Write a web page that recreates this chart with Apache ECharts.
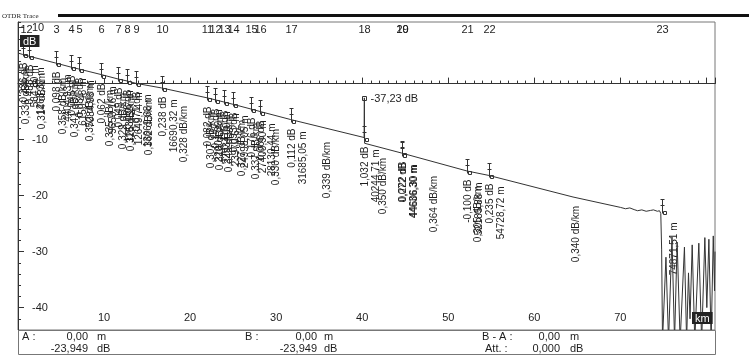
<!DOCTYPE html>
<html style="height: 100%">
<head>
<meta charset="utf-8">
<script type="text/javascript" src="https://cdn.jsdelivr.net/npm/echarts@6/dist/echarts.min.js"></script>
</head>
<body style="height: 100%; margin: 0; background: #fff">
<div id="container" style="width: 749px; height: 361px"></div>
<script type="text/javascript">
// trace (km, dB)
var TRACE_KM = [0, 0.56, 0.6, 1.26, 1.3, 4.4, 4.45, 6.15, 6.2, 7.08, 7.13, 9.65, 9.7, 11.63, 11.68,
    12.67, 12.72, 13.7, 13.75, 16.69, 16.74, 22.0, 22.05, 22.93, 22.98, 23.97, 24.02, 25.0, 25.05,
    27.1, 27.15, 28.17, 28.22, 31.69, 31.74, 40.22, 40.25, 40.28, 44.58, 44.63, 44.68, 52.17, 52.22,
    54.73, 54.78, 64.5, 70.0, 70.6, 71.1, 71.6, 72.0, 72.5, 73.0, 73.5, 73.85, 74.3, 74.55, 74.7,
    74.8, 74.9, 75.3, 75.6, 76.0, 76.3, 76.6, 76.95, 77.45, 77.7, 77.92, 78.1, 78.35, 78.65, 79.12,
    79.45, 79.82, 80.05, 80.29, 80.55, 80.8, 80.95, 81.0];
var TRACE_DB = [5.45, 5.2, 5.1, 4.9, 4.8, 3.66, 3.56, 2.95, 2.9, 2.6, 2.54, 1.62, 1.56, 0.82, 0.77,
    0.47, 0.4, 0.05, -0.02, -0.78, -1.02, -2.55, -2.63, -2.9, -3.05, -3.3, -3.42, -3.7, -3.79,
    -4.55, -4.72, -5.0, -5.07, -6.42, -6.53, -9.63, -2.55, -10.66, -12.4, -12.62, -12.69, -15.6, -15.5,
    -16.4, -16.63, -20.25, -22.1, -22.35, -22.2, -22.5, -22.7, -22.55, -22.8, -22.65, -22.55, -22.8, -22.7, -23.2,
    -29.7, -46, -31, -46, -27.4, -46, -28.3, -46, -29.2, -46, -33.8, -42, -28.8, -46, -28.5,
    -46, -27.5, -40, -27.8, -46, -27.2, -37, -30];

var EVENT_NO = ['1', '2', '3', '4', '5', '6', '7', '8', '9', '10', '11', '12', '13', '14', '15', '16',
    '17', '18', '19', '20', '21', '22', '23'];
var EVENT_KM = [0.56, 1.26, 4.4, 6.15, 7.08, 9.65, 11.63, 12.67, 13.7, 16.69, 22.0, 22.93, 23.97, 25.0,
    27.1, 28.17, 31.69, 40.24, 44.58, 44.63, 52.17, 54.73, 74.87];
var EVENT_DB = [5.2, 4.9, 3.66, 2.95, 2.6, 1.62, 0.82, 0.47, 0.05, -0.78, -2.55, -2.9, -3.3, -3.7,
    -4.55, -5.0, -6.42, -9.63, -12.4, -12.62, -15.6, -16.4, -22.7];
var EVENT_LOSS = ['0,236 dB', '0,488 dB', '0,098 dB', '0,045 dB', '0,081 dB', '0,062 dB', '0,049 dB',
    '0,066 dB', '0,071 dB', '0,238 dB', '0,082 dB', '0,147 dB', '0,115 dB', '0,093 dB', '0,176 dB',
    '0,066 dB', '0,112 dB', '1,032 dB', '0,222 dB', '0,072 dB', '-0,100 dB', '0,235 dB', ''];
var EVENT_DIST = ['564,80 m', '1263,37 m', '4404,93 m', '6150,48 m', '7084,93 m', '9650,16 m',
    '11630,27 m', '12649,74 m', '13669,68 m', '16690,32 m', '22001,39 m', '22934,10 m', '23970,62 m',
    '24998,05 m', '27409,90 m', '28130,44 m', '31685,05 m', '40244,71 m', '44606,30 m', '44636,30 m',
    '52185,88 m', '54728,72 m', '74871,51 m'];
// attenuation of the section after each event
var SECTION_ATT = ['0,336 dB/km', '0,314 dB/km', '0,358 dB/km', '0,341 dB/km', '0,352 dB/km',
    '0,335 dB/km', '0,329 dB/km', '0,325 dB/km', '0,362 dB/km', '0,328 dB/km', '0,307 dB/km',
    '0,318 dB/km', '0,345 dB/km', '0,327 dB/km', '0,337 dB/km', '0,330 dB/km', '0,339 dB/km',
    '0,350 dB/km', '', '0,364 dB/km', '0,305 dB/km', '0,340 dB/km'];

var REFL_KM = [40.25];
var REFL_DB = [-2.55];
var REFL_TEXT = ['-37,23 dB'];

var X_LABELS = [10, 20, 30, 40, 50, 60, 70];
var Y_LABELS = [10, 0, -10, -20, -30, -40];

var INK = '#1e1e1e';
var FONT_V = '10px "Liberation Sans", Arial, sans-serif';
var FONT_H = '11px "Liberation Sans", Arial, sans-serif';

function vText(x, y, txt) {
    return {
        type: 'text', x: x, y: y, rotation: Math.PI / 2, silent: true,
        style: {text: txt, font: FONT_V, fill: INK, align: 'right', verticalAlign: 'middle'}
    };
}

function renderEvent(params, api) {
    var i = api.value(2);
    var p = api.coord([api.value(0), api.value(1)]);
    var cs = params.coordSys;
    var x = Math.round(p[0]) + 0.5, y = Math.round(p[1]) + 0.5;
    var ls = {stroke: '#333', lineWidth: 1};
    var kids = [
        {type: 'line', shape: {x1: x, y1: y - 12, x2: x, y2: y + 2}, style: ls},
        {type: 'line', shape: {x1: x - 2, y1: y - 12, x2: x + 2, y2: y - 12}, style: ls},
        {type: 'line', shape: {x1: x - 2, y1: y - 6, x2: x + 2, y2: y - 6}, style: ls},
        {type: 'rect', shape: {x: x + 1, y: y, width: 3, height: 3}, style: {fill: '#fff', stroke: '#333', lineWidth: 1}},
        {type: 'text', x: x, y: cs.y + 8, silent: true,
            style: {text: EVENT_NO[i], font: FONT_H, fill: INK, align: 'center', verticalAlign: 'middle'}},
        vText(x + 1, y + 8, EVENT_LOSS[i]),
        vText(x + 12, y + 11, EVENT_DIST[i])
    ];
    return {type: 'group', children: kids};
}

function renderSection(params, api) {
    var i = api.value(2);
    var a = api.coord([EVENT_KM[i], EVENT_DB[i]]);
    var b = api.coord([EVENT_KM[i + 1], EVENT_DB[i + 1]]);
    var x = Math.round((a[0] + b[0]) / 2), y = Math.round((a[1] + b[1]) / 2);
    return vText(x, y + 13, SECTION_ATT[i]);
}

function renderRefl(params, api) {
    var p = api.coord([api.value(0), api.value(1)]);
    var x = Math.round(p[0]) + 0.5, y = Math.round(p[1]) + 0.5;
    return {type: 'group', children: [
        {type: 'rect', shape: {x: x - 2, y: y - 2, width: 4, height: 4}, style: {fill: '#fff', stroke: '#333', lineWidth: 1}},
        {type: 'text', x: x + 6, y: y, silent: true,
            style: {text: REFL_TEXT[api.value(2)], font: FONT_H, fill: INK, align: 'left', verticalAlign: 'middle'}}
    ]};
}

var traceData = TRACE_KM.map(function (k, i) { return [k, TRACE_DB[i]]; });
var eventData = EVENT_KM.map(function (k, i) { return [k, EVENT_DB[i], i]; });
var sectionData = SECTION_ATT.map(function (t, i) { return [EVENT_KM[i], EVENT_DB[i], i]; });
var reflData = REFL_KM.map(function (k, i) { return [k, REFL_DB[i], i]; });

function boxText(x, y, txt, align) {
    return {type: 'text', x: x, y: y, z: 100,
        style: {text: txt, font: FONT_H, fill: INK, align: align || 'left', verticalAlign: 'middle'}};
}

var option = {
    backgroundColor: '#fff',
    animation: false,
    grid: {left: 18, right: 34, top: 22, bottom: 31, show: true, borderColor: '#777', borderWidth: 1,
        outerBoundsMode: 'none'},
    xAxis: [{
        type: 'value', min: 0, max: 81, interval: 1, position: 'bottom',
        axisLine: {lineStyle: {color: '#333'}},
        axisTick: {inside: true, length: 3, lineStyle: {color: '#333'}},
        axisLabel: {show: false}, splitLine: {show: false}
    }, {
        type: 'value', min: 0, max: 81, interval: 10, position: 'bottom',
        axisLine: {show: false},
        axisTick: {inside: true, length: 6, lineStyle: {color: '#333'}},
        axisLabel: {inside: true, margin: 7, color: INK, fontSize: 11, fontFamily: 'Liberation Sans',
            formatter: function (v) { return X_LABELS.indexOf(v) >= 0 ? String(v) : ''; }},
        splitLine: {show: false}
    }],
    yAxis: [{
        type: 'value', min: -44, max: 11, interval: 2, position: 'left',
        axisLine: {show: true, lineStyle: {color: '#333'}},
        axisTick: {show: true, inside: true, length: 3, lineStyle: {color: '#333'}},
        axisLabel: {show: false}, splitLine: {show: false}
    }, {
        type: 'value', min: -44, max: 11, position: 'left',
        axisLine: {show: false},
        axisTick: {show: true, inside: true, length: 6, customValues: Y_LABELS, lineStyle: {color: '#333'}},
        axisLabel: {inside: true, margin: 14, color: INK, fontSize: 11, fontFamily: 'Liberation Sans',
            customValues: Y_LABELS},
        splitLine: {show: false}
    }],
    series: [{
        type: 'line', data: traceData, xAxisIndex: 0, yAxisIndex: 0,
        showSymbol: false, clip: true, lineStyle: {color: '#333', width: 1}
    }, {
        type: 'custom', data: eventData, xAxisIndex: 0, yAxisIndex: 0, renderItem: renderEvent, z: 3
    }, {
        type: 'custom', data: sectionData, xAxisIndex: 0, yAxisIndex: 0, renderItem: renderSection, z: 3
    }, {
        type: 'custom', data: reflData, xAxisIndex: 0, yAxisIndex: 0, renderItem: renderRefl, z: 3
    }],
    graphic: [
        {type: 'text', x: 2, y: 16, style: {text: 'OTDR Trace', font: '7px "Liberation Serif", serif', fill: INK, verticalAlign: 'middle'}},
        {type: 'rect', shape: {x: 58, y: 14, width: 691, height: 3}, style: {fill: '#111'}},
        {type: 'text', x: 20, y: 35, z: 100, style: {text: 'dB', font: FONT_H, fill: '#fff', backgroundColor: '#222', padding: [1, 3, 0, 3]}},
        {type: 'text', x: 692, y: 312, z: 100, style: {text: 'km', font: FONT_H, fill: '#fff', backgroundColor: '#222', padding: [1, 3, 0, 3]}},
        {type: 'rect', z: 100, shape: {x: 18.5, y: 330.5, width: 697, height: 24}, style: {fill: '#fff', stroke: '#777', lineWidth: 1}},
        boxText(22, 337, 'A :'),
        boxText(88, 337, '0,00', 'right'), boxText(97, 337, 'm'),
        boxText(88, 349, '-23,949', 'right'), boxText(97, 349, 'dB'),
        boxText(245, 337, 'B :'),
        boxText(317, 337, '0,00', 'right'), boxText(324, 337, 'm'),
        boxText(317, 349, '-23,949', 'right'), boxText(324, 349, 'dB'),
        boxText(482, 337, 'B - A :'),
        boxText(560, 337, '0,00', 'right'), boxText(570, 337, 'm'),
        boxText(485, 349, 'Att. :'),
        boxText(560, 349, '0,000', 'right'), boxText(570, 349, 'dB')
    ]
};

var myChart = echarts.init(document.getElementById('container'));
myChart.setOption(option);
</script>
</body>
</html>
